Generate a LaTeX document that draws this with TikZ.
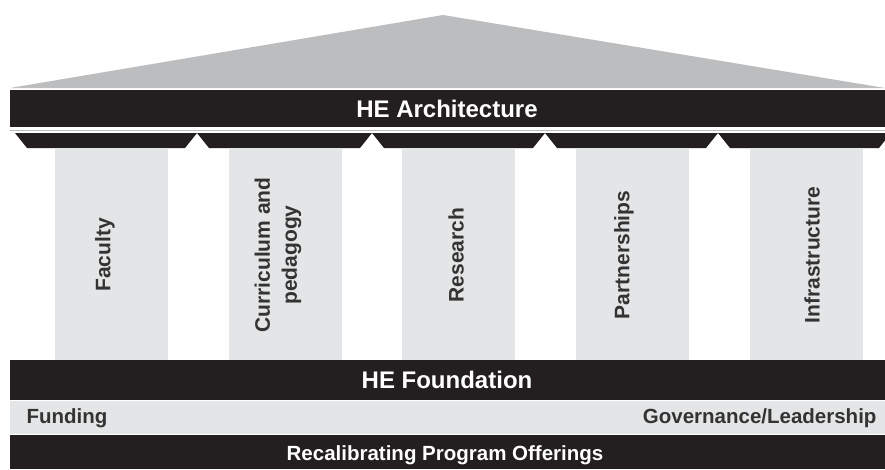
\documentclass[tikz,border=0pt]{standalone}
\usepackage{fontspec}
\setmainfont{Liberation Sans}
\definecolor{barblack}{HTML}{231F20}
\definecolor{roofgray}{HTML}{BCBDBF}
\definecolor{pillargray}{HTML}{E4E5E6}
\definecolor{labelgray}{HTML}{333333}
\begin{document}
\begin{tikzpicture}[x=1pt, y=-1pt,
    bartext/.style = {text=white, font=\bfseries\fontsize{24}{24}\selectfont},
    pillartext/.style = {text=labelgray, rotate=90, align=center,
      font=\bfseries\fontsize{21}{27}\selectfont},
    bandtext/.style = {text=labelgray, font=\bfseries\fontsize{20.5}{20.5}\selectfont}]
    \useasboundingbox[fill=white] (0,0) rectangle (885,469);
    % roof and entablature
    \fill[roofgray] (10,88) -- (443,15) -- (885,88) -- cycle;
    \fill[barblack] (10,90) rectangle (885,127);
    \fill[roofgray] (10,130) rectangle (885,131);
    \node[bartext] (arch) at (447,109) {HE Architecture};
    \foreach \a/\b in {15/197,197/372,372/545,545/718,718/891}
      \fill[barblack] (\a,133) -- (\b,133) -- (\b-12,148) -- (\a+12,148) -- cycle;
    % pillars
    \foreach \x/\tx/\txt [count=\i] in {111/105/Faculty, 285/278/{Curriculum and\\pedagogy},
        458/456/Research, 632/624/Partnerships, 806/812/Infrastructure} {
      \fill[pillargray] (\x-56.5,148) rectangle (\x+56.5,360);
      \node[pillartext] (pillar\i) at (\tx,255) {\txt};
    }
    % foundation
    \fill[barblack] (10,360) rectangle (885,400);
    \node[bartext] (found) at (447,380) {HE Foundation};
    \fill[pillargray] (10,401) rectangle (885,434);
    \node[bandtext, anchor=west] (fund) at (23,418) {Funding};
    \node[bandtext, anchor=east] (gov) at (880,418) {Governance/Leadership};
    \fill[barblack] (10,435) rectangle (885,469);
    \node[bartext, font=\bfseries\fontsize{20.5}{20.5}\selectfont] (recal) at (445,455) {Recalibrating Program Offerings};
\end{tikzpicture}
\end{document}
